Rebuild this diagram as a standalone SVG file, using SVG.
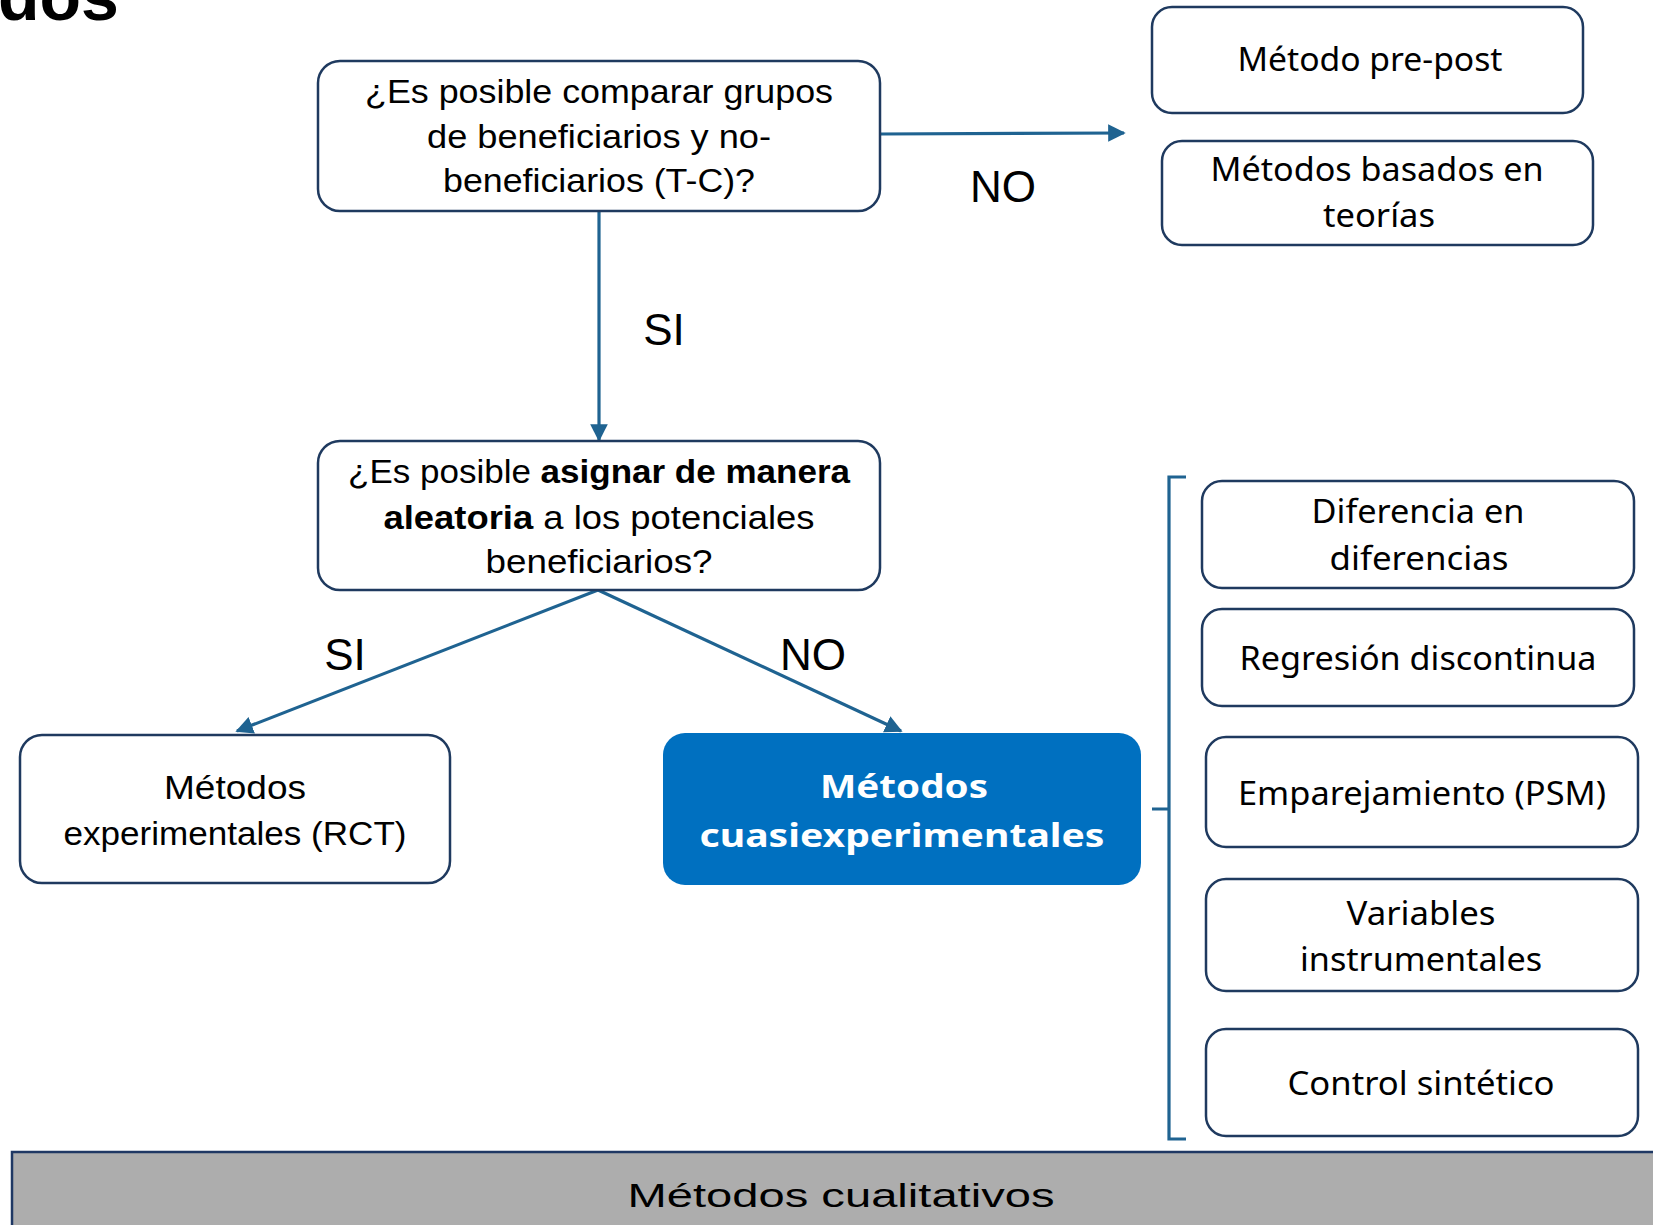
<svg xmlns="http://www.w3.org/2000/svg" width="1653" height="1225" viewBox="0 0 1653 1225">
<style>
.box{fill:#fff;stroke:#1F3A5F;stroke-width:2.5}
.t{font-family:"Liberation Sans",Arial,sans-serif;font-size:34px;fill:#000;text-anchor:middle}
.r{font-family:"Noto Sans","Liberation Sans",sans-serif;font-size:33px;fill:#000;text-anchor:middle}
.lbl{font-family:"Liberation Sans",Arial,sans-serif;font-size:44px;fill:#000;text-anchor:middle}
.c{stroke:#1F6391;stroke-width:3.2;fill:none}
</style>
<defs>
<marker id="ah" viewBox="0 0 10 10" refX="9" refY="5" markerWidth="5.5" markerHeight="5.5" orient="auto" markerUnits="strokeWidth">
<path d="M0,0 L10,5 L0,10 z" fill="#1F6391"/>
</marker>
</defs>
<rect width="1653" height="1225" fill="#fff"/>
<text x="-2" y="20" font-family="Liberation Sans,Arial,sans-serif" font-weight="bold" font-size="68" fill="#000">dos</text>

<g id="connectors">
<line class="c" x1="880" y1="134" x2="1124" y2="133" marker-end="url(#ah)"/>
<line class="c" x1="599" y1="211" x2="599" y2="440" marker-end="url(#ah)"/>
<line class="c" x1="598" y1="590" x2="237" y2="731" marker-end="url(#ah)"/>
<line class="c" x1="598" y1="590" x2="901" y2="731" marker-end="url(#ah)"/>
<path class="c" d="M1186,477 H1169 V1139 H1186 M1169,809 H1152"/>
<text class="lbl" x="1003" y="202">NO</text>
<text class="lbl" x="664" y="345">SI</text>
<text class="lbl" x="345" y="670">SI</text>
<text class="lbl" x="813" y="670">NO</text>
</g>

<g id="q1">
<rect class="box" x="318" y="61" width="562" height="150" rx="22"/>
<text class="t" x="599" y="103" textLength="468" lengthAdjust="spacingAndGlyphs">¿Es posible comparar grupos</text>
<text class="t" x="599" y="148" textLength="344" lengthAdjust="spacingAndGlyphs">de beneficiarios y no-</text>
<text class="t" x="599" y="192" textLength="312" lengthAdjust="spacingAndGlyphs">beneficiarios (T-C)?</text>
</g>

<g id="prepost">
<rect class="box" x="1152" y="7" width="431" height="106" rx="20"/>
<text class="r" x="1370" y="71" textLength="265" lengthAdjust="spacingAndGlyphs">Método pre-post</text>
</g>

<g id="teorias">
<rect class="box" x="1162" y="141" width="431" height="104" rx="20"/>
<text class="r" x="1377" y="181" textLength="333" lengthAdjust="spacingAndGlyphs">Métodos basados en</text>
<text class="r" x="1379" y="227" textLength="112" lengthAdjust="spacingAndGlyphs">teorías</text>
</g>

<g id="q2">
<rect class="box" x="318" y="441" width="562" height="149" rx="22"/>
<text class="t" x="599" y="483" textLength="502" lengthAdjust="spacingAndGlyphs">¿Es posible <tspan font-weight="bold">asignar de manera</tspan></text>
<text class="t" x="599" y="529" textLength="431" lengthAdjust="spacingAndGlyphs"><tspan font-weight="bold">aleatoria</tspan> a los potenciales</text>
<text class="t" x="599" y="573" textLength="227" lengthAdjust="spacingAndGlyphs">beneficiarios?</text>
</g>

<g id="rct">
<rect class="box" x="20" y="735" width="430" height="148" rx="22"/>
<text class="t" x="235" y="799" textLength="142" lengthAdjust="spacingAndGlyphs">Métodos</text>
<text class="t" x="235" y="845" textLength="343" lengthAdjust="spacingAndGlyphs">experimentales (RCT)</text>
</g>

<g id="cuasi">
<rect x="663" y="733" width="478" height="152" rx="22" fill="#0070C0"/>
<text class="r" x="904" y="798" font-weight="bold" font-size="37" style="fill:#fff" textLength="168" lengthAdjust="spacingAndGlyphs">Métodos</text>
<text class="r" x="902" y="847" font-weight="bold" font-size="37" style="fill:#fff" textLength="405" lengthAdjust="spacingAndGlyphs">cuasiexperimentales</text>
</g>

<g id="did">
<rect class="box" x="1202" y="481" width="432" height="107" rx="20"/>
<text class="r" x="1418" y="523" textLength="213" lengthAdjust="spacingAndGlyphs">Diferencia en</text>
<text class="r" x="1419" y="570" textLength="179" lengthAdjust="spacingAndGlyphs">diferencias</text>
</g>

<g id="rd">
<rect class="box" x="1202" y="609" width="432" height="97" rx="20"/>
<text class="r" x="1418" y="670" textLength="357" lengthAdjust="spacingAndGlyphs">Regresión discontinua</text>
</g>

<g id="psm">
<rect class="box" x="1206" y="737" width="432" height="110" rx="20"/>
<text class="r" x="1422" y="805" textLength="368" lengthAdjust="spacingAndGlyphs">Emparejamiento (PSM)</text>
</g>

<g id="iv">
<rect class="box" x="1206" y="879" width="432" height="112" rx="20"/>
<text class="r" x="1421" y="925" textLength="149" lengthAdjust="spacingAndGlyphs">Variables</text>
<text class="r" x="1421" y="971" textLength="242" lengthAdjust="spacingAndGlyphs">instrumentales</text>
</g>

<g id="sc">
<rect class="box" x="1206" y="1029" width="432" height="107" rx="20"/>
<text class="r" x="1421" y="1095" textLength="267" lengthAdjust="spacingAndGlyphs">Control sintético</text>
</g>

<g id="cualitativos">
<rect x="12" y="1152" width="1660" height="90" fill="#ADADAD" stroke="#1F3864" stroke-width="2.5"/>
<text class="t" x="841" y="1207" font-size="48" textLength="427" lengthAdjust="spacingAndGlyphs">Métodos cualitativos</text>
</g>
</svg>
